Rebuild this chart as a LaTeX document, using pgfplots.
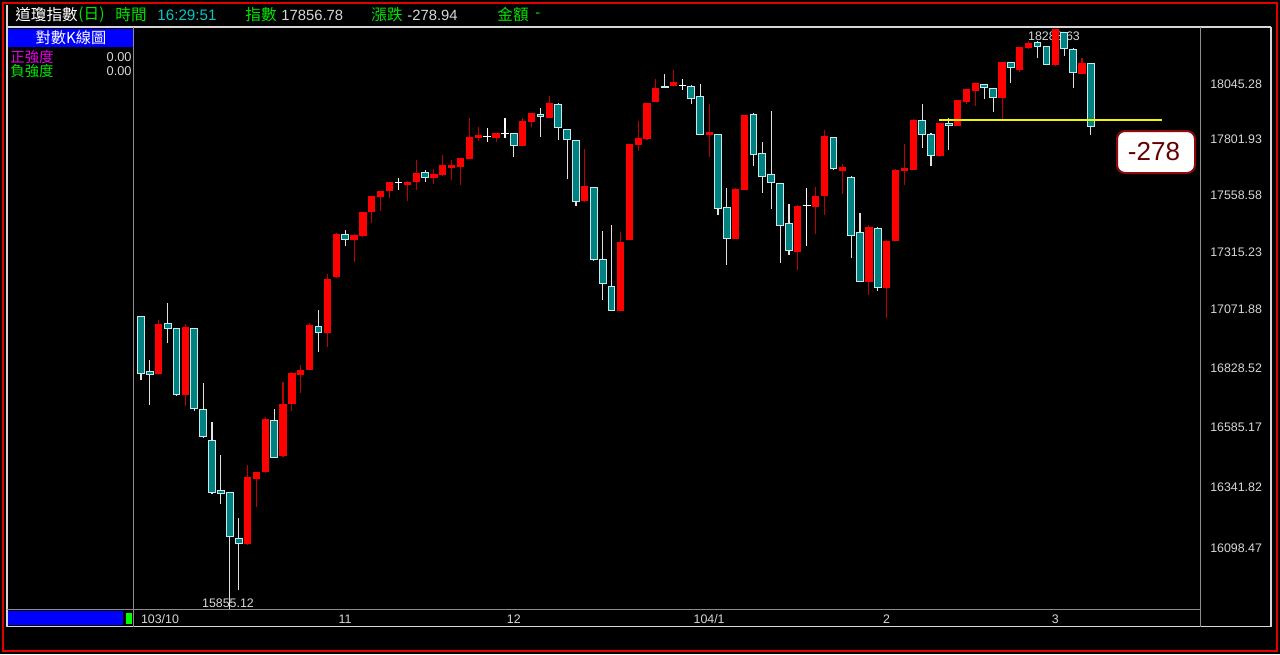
\documentclass[border=0pt]{standalone}
\usepackage{pgfplots}
\pgfplotsset{compat=1.18}
\usepackage{pgfplotstable}
\usepackage{fontspec}
\setmainfont{Liberation Sans}
\newfontfamily\cjk{Noto Sans CJK TC}
\definecolor{upred}{RGB}{255,0,0}
\definecolor{upwick}{RGB}{190,0,0}
\definecolor{dnteal}{RGB}{0,128,128}
\definecolor{dnedge}{RGB}{195,235,235}
\definecolor{dnwick}{RGB}{225,225,225}
\definecolor{framegray}{RGB}{140,140,140}
\definecolor{tickgray}{RGB}{215,215,215}
\definecolor{hgreen}{RGB}{0,230,0}
\definecolor{hcyan}{RGB}{0,200,200}
\definecolor{hmag}{RGB}{230,0,230}
\definecolor{boxred}{RGB}{100,0,0}
\definecolor{boxedge}{RGB}{140,10,10}
\definecolor{pblue}{RGB}{0,0,255}
\definecolor{lineyellow}{RGB}{245,245,0}

% up candles (close > open): x O H L C
\pgfplotstableread{
x O H L C
2 16804 17027 16798 17009.69
5 16720 17010 16670 16994.22
12 16117 16431 16110 16380.41
13 16378 16403 16262 16399.67
14 16405 16624 16400 16614.81
16 16468 16771 16465 16677.90
17 16680 16810 16650 16805.41
18 16800 16838 16725 16817.94
19 16822 17015 16818 17005.75
21 16975 17222 16916 17195.42
22 17210 17395 17205 17390.52
24 17368 17390 17273 17383.84
25 17386 17487 17380 17484.53
26 17490 17556 17437 17554.47
27 17555 17575 17490 17573.93
28 17577 17615 17545 17613.74
30 17606 17620 17533 17612.20
31 17620 17711 17582 17652.79
33 17634 17672 17605 17647.75
34 17647 17734 17640 17687.82
35 17680 17711 17624 17685.73
36 17684 17720 17602 17719.00
37 17719 17894 17715 17810.06
38 17812 17855 17793 17817.90
40 17812 17830 17790 17827.75
43 17777 17894 17775 17879.55
44 17880 17915 17855 17912.62
46 17900 17993 17898 17958.79
50 17537 17758 17530 17596.34
54 17069 17400 17065 17356.87
55 17370 17780 17365 17778.15
56 17778 17880 17750 17804.80
57 17806 17962 17800 17959.44
58 17970 18070 17965 18024.17
60 18040 18107 18038 18053.71
64 17823 17958 17725 17832.99
67 17374 17590 17370 17584.52
68 17585 17910 17583 17907.87
74 17318 17515 17236 17511.57
76 17510 17594 17390 17554.28
77 17556 17842 17475 17813.98
79 17666 17692 17562 17678.70
82 17191 17430 17132 17416.85
84 17165 17365 17035 17361.04
85 17364 17670 17360 17666.40
86 17666 17780 17602 17673.02
87 17672 17890 17668 17884.88
90 17732 17872 17725 17868.76
92 17862 17975 17858 17972.38
93 17970 18022 17957 18019.35
94 18015 18050 17948 18047.58
97 17986 18143 17893 18140.44
99 18110 18212 18100 18209.19
100 18209 18237 18200 18224.57
103 18133 18288.63 18125 18288.63
106 18093 18160 18090 18135.72
}\uptab

% down candles (close < open)
\pgfplotstableread{
x O H L C
0 17040 17043 16778 16804.71
1 16811 16861 16675 16801.05
3 17014 17100 16930 16991.91
4 16993 16996 16714 16719.39
6 16992 16995 16650 16659.25
7 16657 16766 16540 16544.10
8 16529 16605 16315 16321.07
9 16328 16469 16274 16315.19
10 16318 16320 15855.12 16141.74
11 16136 16218 15934 16117.24
15 16612 16659 16458 16461.32
20 17002 17070 16895 16974.31
23 17390 17411 17341 17366.24
32 17656 17667 17614 17634.74
42 17827 17830 17725 17776.80
45 17912 17941 17812 17900.10
47 17955 17960 17800 17852.48
48 17845 17848 17627 17801.20
49 17797 17800 17512 17533.15
51 17590 17595 17278 17280.83
52 17283 17404 17112 17180.84
53 17170 17430 17065 17068.87
59 18036 18090 18028 18030.21
62 18036 18040 17957 17983.07
63 17989 18045 17820 17823.07
65 17823 17825 17473 17501.65
66 17505 17590 17259 17371.64
69 17910 17918 17685 17737.37
70 17740 17792 17570 17640.84
71 17648 17925 17497 17613.68
72 17610 17612 17268 17427.09
73 17435 17520 17300 17320.71
78 17808 17812 17668 17672.60
80 17633 17640 17290 17387.21
81 17400 17483 17190 17191.37
83 17415 17423 17150 17164.95
88 17885 17955 17763 17824.29
89 17824 17828 17683 17729.21
91 17870 17896 17757 17862.14
95 18045 18048 17977 18029.85
96 18026 18028 17922 17985.77
98 18143 18145 18050 18116.84
101 18230 18237 18160 18214.42
102 18212 18215 18130 18132.70
104 18276 18280 18170 18203.37
105 18200 18205 18026 18096.90
107 18137 18140 17820 17856.78
}\dntab

% doji candles
\pgfplotstableread{
x O H L C
29 17612 17631 17583 17614.90
39 17815 17852 17790 17814.94
41 17828 17894 17806 17828.24
61 18038 18067 18021 18038.23
75 17515 17590 17340 17515.23
}\dojitab

\newcommand\getohlc[2]{%
  \pgfplotstablegetelem{#2}{x}\of#1\let\cx\pgfplotsretval
  \pgfplotstablegetelem{#2}{O}\of#1\let\co\pgfplotsretval
  \pgfplotstablegetelem{#2}{H}\of#1\let\ch\pgfplotsretval
  \pgfplotstablegetelem{#2}{L}\of#1\let\cl\pgfplotsretval
  \pgfplotstablegetelem{#2}{C}\of#1\let\cc\pgfplotsretval}

% logarithmic price transformation (works with and without the FPU active)
\pgfplotsset{logprice/.style={
  y coord trafo/.code={%
    \pgflibraryfpuifactive{%
      \pgfmathparse{ln(##1/15000)}%
    }{%
      \begingroup
      \pgfkeys{/pgf/fpu=true,/pgf/fpu/output format=fixed}%
      \pgfmathparse{ln(##1/15000)}%
      \pgfmathsmuggle\pgfmathresult
      \endgroup
    }}}}

\begin{document}
\begin{tikzpicture}
\pgfplotstablegetrowsof{\uptab}\pgfmathtruncatemacro\nup{\pgfplotsretval-1}
\pgfplotstablegetrowsof{\dntab}\pgfmathtruncatemacro\ndn{\pgfplotsretval-1}
\pgfplotstablegetrowsof{\dojitab}\pgfmathtruncatemacro\ndj{\pgfplotsretval-1}
% ---------- background and frame (pixel units, y down) ----------
\begin{scope}[x=0.5pt,y=-0.5pt]
  \fill[black] (0,0) rectangle (1280,654);
  \draw[red!90!black, line width=1pt] (3,3) rectangle (1277,651);
  \draw[tickgray, line width=0.6pt] (7,27) -- (1271,27);
  \draw[tickgray, line width=0.6pt] (7,626.5) -- (1271,626.5);
  \draw[tickgray, line width=0.6pt] (7,5) -- (7,626.5);
  \draw[tickgray, line width=0.6pt] (1271,27) -- (1271,626.5);
  \draw[framegray, line width=0.5pt] (133.5,27) -- (133.5,626.5);
  \draw[framegray, line width=0.5pt] (1200.5,27) -- (1200.5,626.5);
  \draw[framegray, line width=0.5pt] (7,609.5) -- (1200.5,609.5);
  % header
  \node[anchor=west, inner sep=0, text=white, font=\cjk\fontsize{7.8}{8}\selectfont] at (15,15) {道瓊指數};
  \node[anchor=west, inner sep=0, text=hgreen, font=\cjk\fontsize{7.8}{8}\selectfont] at (78,15) {(日)};
  \node[anchor=west, inner sep=0, text=hgreen, font=\cjk\fontsize{7.8}{8}\selectfont] at (115,15) {時間};
  \node[anchor=west, inner sep=0, text=hcyan, font=\fontsize{7.6}{8}\selectfont] at (157,15) {16:29:51};
  \node[anchor=west, inner sep=0, text=hgreen, font=\cjk\fontsize{7.8}{8}\selectfont] at (245,15) {指數};
  \node[anchor=west, inner sep=0, text=tickgray, font=\fontsize{7.4}{8}\selectfont] at (281,15) {17856.78};
  \node[anchor=west, inner sep=0, text=hgreen, font=\cjk\fontsize{7.8}{8}\selectfont] at (371,15) {漲跌};
  \node[anchor=west, inner sep=0, text=tickgray, font=\fontsize{7.4}{8}\selectfont] at (407,15) {-278.94};
  \node[anchor=west, inner sep=0, text=hgreen, font=\cjk\fontsize{7.8}{8}\selectfont] at (497,15) {金額};
  \node[anchor=west, inner sep=0, text=hgreen, font=\fontsize{7.4}{8}\selectfont] at (535,15) {-};
  % left panel
  \fill[pblue] (8,28.5) rectangle (133,47);
  \node[text=white, inner sep=0, font=\cjk\fontsize{7.6}{8}\selectfont] at (71,37.5) {對數K線圖};
  \node[anchor=west, inner sep=0, text=hmag, font=\cjk\fontsize{7.2}{8}\selectfont] at (10,57) {正強度};
  \node[anchor=east, inner sep=0, text=tickgray, font=\fontsize{6.4}{7}\selectfont] at (132,57) {0.00};
  \node[anchor=west, inner sep=0, text=hgreen, font=\cjk\fontsize{7.2}{8}\selectfont] at (10,71) {負強度};
  \node[anchor=east, inner sep=0, text=tickgray, font=\fontsize{6.4}{7}\selectfont] at (132,71) {0.00};
  % bottom left bar
  \fill[pblue] (8,611) rectangle (123,625);
  \fill[green] (126,613) rectangle (132,624);
  % extreme labels
  \node[text=tickgray, inner sep=0, font=\fontsize{6.2}{7}\selectfont] at (1054,36) {18288.63};
  \node[text=tickgray, inner sep=0, font=\fontsize{6.2}{7}\selectfont] at (228,603) {15855.12};
\end{scope}

% ---------- the chart (log price scale) ----------
\begin{axis}[
  at={(67pt,-14pt)}, anchor=north west,
  scale only axis, width=533pt, height=290pt,
  logprice,
  xmin=-0.79, xmax=119.3,
  ymin=15862, ymax=18296,
  axis line style={draw=none},
  major tick length=0pt,
  clip mode=individual,
  ytick={16098.47,16341.82,16585.17,16828.52,17071.88,17315.23,17558.58,17801.93,18045.28},
  yticklabels={16098.47,16341.82,16585.17,16828.52,17071.88,17315.23,17558.58,17801.93,18045.28},
  yticklabel pos=right,
  yticklabel style={anchor=west, xshift=1.6pt, text=tickgray, font=\fontsize{6.2}{7}\selectfont},
  xtick={0,23,42,64,84,103},
  xticklabels={\makebox[0pt][l]{103/10},11,12,104/1,2,3},
  xticklabel style={text=tickgray, font=\fontsize{6.2}{7}\selectfont, yshift=0.3pt},
]
% up candles: wick then red body
\pgfplotsforeachungrouped \i in {0,...,\nup}{%
  \getohlc{\uptab}{\i}%
  \edef\temp{%
    \noexpand\addplot[upwick, line width=0.55pt, forget plot] coordinates {(\cx,\cl) (\cx,\ch)};
    \noexpand\addplot[upred, line width=3.6pt, forget plot, mark=-, mark size=1.8pt, mark options={solid, line width=0.6pt}] coordinates {(\cx,\co) (\cx,\cc)};
  }\temp
}
% down candles: light wick, light edge, teal fill
\pgfplotsforeachungrouped \i in {0,...,\ndn}{%
  \getohlc{\dntab}{\i}%
  \edef\temp{%
    \noexpand\addplot[dnwick, line width=0.55pt, forget plot] coordinates {(\cx,\cl) (\cx,\ch)};
    \noexpand\addplot[dnedge, line width=3.9pt, forget plot] coordinates {(\cx,\co) (\cx,\cc)};
    \noexpand\addplot[dnteal, line width=2.9pt, forget plot, mark=-, mark size=1.95pt, mark options={solid, draw=dnedge, line width=0.5pt}] coordinates {(\cx,\co) (\cx,\cc)};
  }\temp
}
% doji candles
\pgfplotsforeachungrouped \i in {0,...,\ndj}{%
  \getohlc{\dojitab}{\i}%
  \edef\temp{%
    \noexpand\addplot[white, line width=0.55pt, forget plot] coordinates {(\cx,\cl) (\cx,\ch)};
    \noexpand\addplot[white, only marks, forget plot, mark=-, mark size=1.9pt, mark options={solid, line width=0.6pt}] coordinates {(\cx,\cc)};
  }\temp
}
% yellow level line
\addplot[lineyellow, line width=1pt, forget plot] coordinates {(89.9,17884.88) (115,17884.88)};
\end{axis}

% ---------- change box ----------
\begin{scope}[x=0.5pt,y=-0.5pt]
  \draw[boxedge, line width=1pt, fill=white, rounded corners=4pt] (1117,131) rectangle (1195,173);
  \node[text=boxred, inner sep=0, font=\fontsize{13}{14}\selectfont] at (1154,152) {-278};
\end{scope}
\pgfresetboundingbox
\path[use as bounding box] (0,0) rectangle (640pt,-327pt);
\end{tikzpicture}
\end{document}
